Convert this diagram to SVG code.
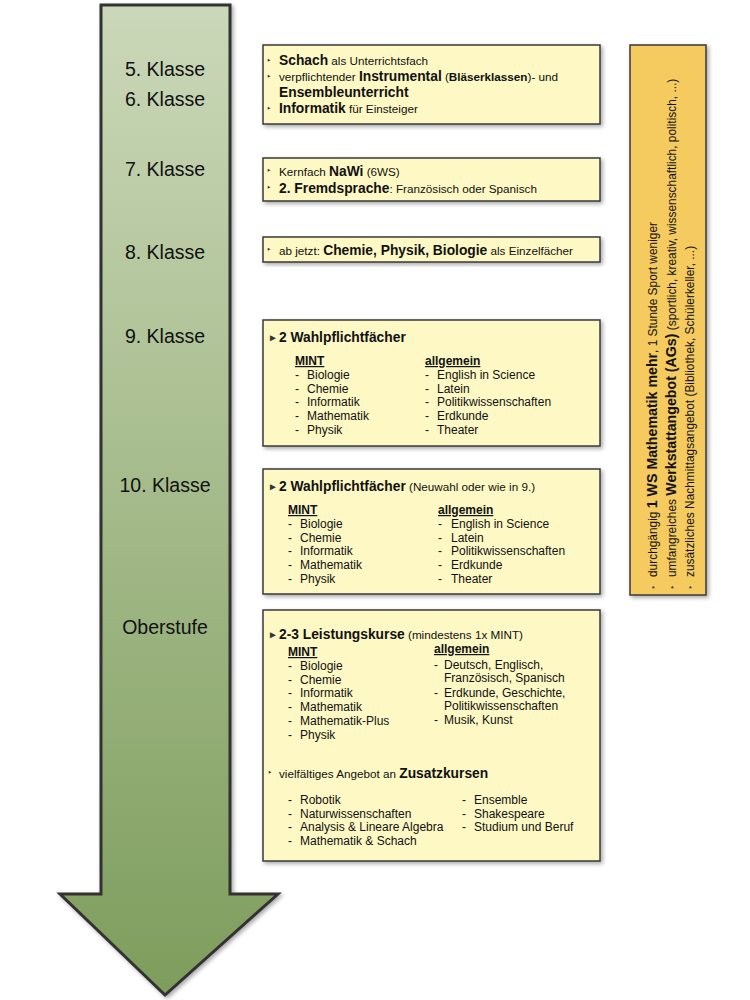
<svg xmlns="http://www.w3.org/2000/svg" width="750" height="1000" viewBox="0 0 750 1000">
<defs>
<linearGradient id="ag" x1="0" y1="0" x2="0" y2="1">
<stop offset="0" stop-color="#cbd8b9"/>
<stop offset="1" stop-color="#7e9d5c"/>
</linearGradient>
<filter id="sh" x="-10%" y="-10%" width="130%" height="130%">
<feGaussianBlur in="SourceAlpha" stdDeviation="2"/>
<feOffset dx="2" dy="2"/>
<feComponentTransfer><feFuncA type="linear" slope="0.35"/></feComponentTransfer>
<feMerge><feMergeNode/><feMergeNode in="SourceGraphic"/></feMerge>
</filter>
</defs>
<style>
text{font-family:"Liberation Sans",Arial,sans-serif;fill:#111}
.k{font-size:19.5px;text-anchor:middle}
.box{fill:#fdf8c4;stroke:#3a3a3a;stroke-width:1.5}
.side{fill:#f5ca5e;stroke:#3a3a3a;stroke-width:1.5}
.s{font-size:11.7px}
.b{font-size:13.8px;font-weight:bold}
.ss{font-size:11.9px}
.sb{font-size:14.2px;font-weight:bold}
.m{font-size:12px}
.h{font-size:12px;font-weight:bold;text-decoration:underline}
.bul{font-size:10px;fill:#333}
</style>
<g id="arrow">
<path d="M101,5 L230,5 L230,894 L278,894 L165,995 L60,894 L101,894 Z" fill="url(#ag)" stroke="#333" stroke-width="3" stroke-linejoin="miter" filter="url(#sh)"/>
<text class="k" x="165" y="76">5. Klasse</text>
<text class="k" x="165" y="106">6. Klasse</text>
<text class="k" x="165" y="176">7. Klasse</text>
<text class="k" x="165" y="259">8. Klasse</text>
<text class="k" x="165" y="343">9. Klasse</text>
<text class="k" x="165" y="492">10. Klasse</text>
<text class="k" x="165" y="634">Oberstufe</text>
</g>
<g id="box56">
<rect class="box" x="263" y="45" width="337" height="79" filter="url(#sh)"/>
<text x="267" y="64" class="bul">‣</text>
<text x="279" y="65"><tspan class="b">Schach</tspan><tspan class="s"> als Unterrichtsfach</tspan></text>
<text x="267" y="80" class="bul">‣</text>
<text x="279" y="81"><tspan class="s">verpflichtender </tspan><tspan class="b">Instrumental</tspan><tspan class="s"> (</tspan><tspan class="s" font-weight="bold">Bläserklassen</tspan><tspan class="s">)- und</tspan></text>
<text x="279" y="97" class="b">Ensembleunterricht</text>
<text x="267" y="112" class="bul">‣</text>
<text x="279" y="113"><tspan class="b">Informatik</tspan><tspan class="s" font-size="10.5px"> für Einsteiger</tspan></text>
</g>
<g id="box7">
<rect class="box" x="263" y="158" width="337" height="43" filter="url(#sh)"/>
<text x="267" y="174" class="bul">‣</text>
<text x="279" y="176"><tspan class="s">Kernfach </tspan><tspan class="b">NaWi</tspan><tspan class="s" font-size="10.5px"> (6WS)</tspan></text>
<text x="267" y="191" class="bul">‣</text>
<text x="279" y="193"><tspan class="b">2. Fremdsprache</tspan><tspan class="s">: Französisch oder Spanisch</tspan></text>
</g>
<g id="box8">
<rect class="box" x="263" y="237" width="337" height="25" filter="url(#sh)"/>
<text x="267" y="253" class="bul">‣</text>
<text x="279" y="255"><tspan class="s">ab jetzt: </tspan><tspan class="b">Chemie, Physik, Biologie</tspan><tspan class="s"> als Einzelfächer</tspan></text>
</g>
<g id="box9">
<rect class="box" x="263" y="320" width="337" height="126" filter="url(#sh)"/>
<text x="268" y="341" class="bul">►</text>
<text x="279" y="342" class="b">2 Wahlpflichtfächer</text>
<text x="295" y="365" class="h">MINT</text>
<text x="295" y="379" class="m">-</text><text x="307" y="379" class="m">Biologie</text>
<text x="295" y="393" class="m">-</text><text x="307" y="393" class="m">Chemie</text>
<text x="295" y="406" class="m">-</text><text x="307" y="406" class="m">Informatik</text>
<text x="295" y="420" class="m">-</text><text x="307" y="420" class="m">Mathematik</text>
<text x="295" y="434" class="m">-</text><text x="307" y="434" class="m">Physik</text>
<text x="425" y="365" class="h">allgemein</text>
<text x="425" y="379" class="m">-</text><text x="437" y="379" class="m">English in Science</text>
<text x="425" y="393" class="m">-</text><text x="437" y="393" class="m">Latein</text>
<text x="425" y="406" class="m">-</text><text x="437" y="406" class="m">Politikwissenschaften</text>
<text x="425" y="420" class="m">-</text><text x="437" y="420" class="m">Erdkunde</text>
<text x="425" y="434" class="m">-</text><text x="437" y="434" class="m">Theater</text>
</g>
<g id="box10">
<rect class="box" x="263" y="469" width="337" height="125" filter="url(#sh)"/>
<text x="268" y="490" class="bul">►</text>
<text x="279" y="491"><tspan class="b">2 Wahlpflichtfächer</tspan><tspan class="s"> (Neuwahl oder wie in 9.)</tspan></text>
<text x="288" y="514" class="h">MINT</text>
<text x="288" y="528" class="m">-</text><text x="300" y="528" class="m">Biologie</text>
<text x="288" y="542" class="m">-</text><text x="300" y="542" class="m">Chemie</text>
<text x="288" y="555" class="m">-</text><text x="300" y="555" class="m">Informatik</text>
<text x="288" y="569" class="m">-</text><text x="300" y="569" class="m">Mathematik</text>
<text x="288" y="583" class="m">-</text><text x="300" y="583" class="m">Physik</text>
<text x="438" y="514" class="h">allgemein</text>
<text x="438" y="528" class="m">-</text><text x="451" y="528" class="m">English in Science</text>
<text x="438" y="542" class="m">-</text><text x="451" y="542" class="m">Latein</text>
<text x="438" y="555" class="m">-</text><text x="451" y="555" class="m">Politikwissenschaften</text>
<text x="438" y="569" class="m">-</text><text x="451" y="569" class="m">Erdkunde</text>
<text x="438" y="583" class="m">-</text><text x="451" y="583" class="m">Theater</text>
</g>
<g id="boxOberstufe">
<rect class="box" x="263" y="610" width="337" height="251" filter="url(#sh)"/>
<text x="268" y="638" class="bul">►</text>
<text x="279" y="639"><tspan class="b">2-3 Leistungskurse</tspan><tspan class="s"> (mindestens 1x MINT)</tspan></text>
<text x="288" y="656" class="h">MINT</text>
<text x="288" y="670" class="m">-</text><text x="300" y="670" class="m">Biologie</text>
<text x="288" y="684" class="m">-</text><text x="300" y="684" class="m">Chemie</text>
<text x="288" y="697" class="m">-</text><text x="300" y="697" class="m">Informatik</text>
<text x="288" y="711" class="m">-</text><text x="300" y="711" class="m">Mathematik</text>
<text x="288" y="725" class="m">-</text><text x="300" y="725" class="m">Mathematik-Plus</text>
<text x="288" y="739" class="m">-</text><text x="300" y="739" class="m">Physik</text>
<text x="434" y="653" class="h">allgemein</text>
<text x="434" y="669" class="m">-</text><text x="444" y="669" class="m">Deutsch, Englisch,</text>
<text x="444" y="682" class="m">Französisch, Spanisch</text>
<text x="434" y="697" class="m">-</text><text x="444" y="697" class="m">Erdkunde, Geschichte,</text>
<text x="444" y="710" class="m">Politikwissenschaften</text>
<text x="434" y="724" class="m">-</text><text x="444" y="724" class="m">Musik, Kunst</text>
<text x="268" y="776" class="bul">‣</text>
<text x="279" y="778"><tspan class="s">vielfältiges Angebot an </tspan><tspan class="b">Zusatzkursen</tspan></text>
<text x="288" y="804" class="m">-</text><text x="300" y="804" class="m">Robotik</text>
<text x="288" y="818" class="m">-</text><text x="300" y="818" class="m">Naturwissenschaften</text>
<text x="288" y="831" class="m">-</text><text x="300" y="831" class="m">Analysis &amp; Lineare Algebra</text>
<text x="288" y="845" class="m">-</text><text x="300" y="845" class="m">Mathematik &amp; Schach</text>
<text x="462" y="804" class="m">-</text><text x="474" y="804" class="m">Ensemble</text>
<text x="462" y="818" class="m">-</text><text x="474" y="818" class="m">Shakespeare</text>
<text x="462" y="831" class="m">-</text><text x="474" y="831" class="m">Studium und Beruf</text>
</g>
<g id="sidebox">
<rect class="side" x="630" y="45" width="76" height="550" filter="url(#sh)"/>
<g transform="translate(657,589) rotate(-90)">
<text x="0" y="0" class="bul">‣</text>
<text x="12" y="0"><tspan class="ss">durchgängig </tspan><tspan class="sb">1 WS Mathematik mehr</tspan><tspan class="ss">, 1 Stunde Sport weniger</tspan></text>
</g>
<g transform="translate(676,589) rotate(-90)">
<text x="0" y="0" class="bul">‣</text>
<text x="12" y="0"><tspan class="ss">umfangreiches </tspan><tspan class="sb">Werkstattangebot (AGs)</tspan><tspan class="ss"> (sportlich, kreativ, wissenschaftlich, politisch, ...)</tspan></text>
</g>
<g transform="translate(694,589) rotate(-90)">
<text x="0" y="0" class="bul">‣</text>
<text x="12" y="0" class="ss">zusätzliches Nachmittagsangebot (Bibliothek, Schülerkeller, ...)</text>
</g>
</g>
</svg>
